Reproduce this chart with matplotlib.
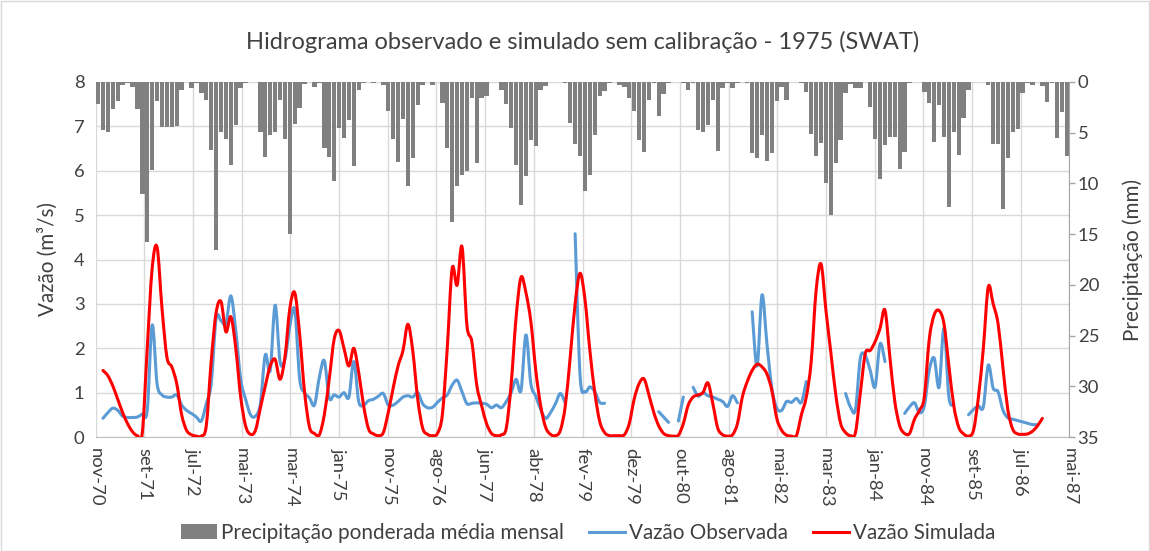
import numpy as np
import matplotlib
matplotlib.use("Agg")
import matplotlib.pyplot as plt
from matplotlib.patches import Patch, Rectangle, PathPatch
from matplotlib.lines import Line2D
from matplotlib.path import Path

plt.rcParams['font.family'] = ['Lato', 'DejaVu Sans']

nan = np.nan

# monthly series, nov-70 .. abr-87
precip = [
    2.2, 4.7, 4.9, 2.7, 1.9, 0.3, 0.1, 0.5, 2.7, 11.0,
    15.8, 8.7, 1.9, 4.4, 4.4, 4.4, 4.3, 0.8, 0.0, 0.6,
    0.1, 1.1, 1.8, 6.7, 16.6, 4.9, 5.6, 8.2, 4.2, 0.6,
    0.1, 0.0, 0.0, 4.9, 7.4, 5.2, 4.9, 1.8, 5.6, 15.0,
    4.1, 2.6, 0.2, 0.0, 0.5, 0.1, 6.5, 7.4, 9.8, 4.5,
    5.5, 3.7, 8.3, 0.8, 0.1, 0.0, 0.1, 0.0, 0.3, 2.9,
    5.6, 7.9, 3.6, 10.3, 7.5, 2.3, 0.3, 0.0, 0.3, 0.0,
    2.1, 6.5, 13.8, 10.3, 9.2, 8.8, 1.6, 8.0, 1.6, 1.4,
    0.0, 0.0, 0.8, 2.2, 4.5, 8.2, 12.1, 9.3, 5.7, 6.3,
    0.8, 0.4, 0.0, 0.0, 0.0, 0.1, 4.0, 6.1, 7.3, 10.7,
    9.2, 5.2, 1.4, 0.9, 0.1, 0.0, 0.3, 0.5, 1.6, 2.9,
    5.7, 6.9, 1.8, 0.1, 3.4, 1.2, 0.1, 0.0, 0.0, 0.1,
    0.8, 0.1, 4.7, 4.9, 4.2, 1.8, 6.8, 0.6, 0.1, 0.6,
    0.1, 0.0, 0.1, 7.0, 7.5, 5.2, 7.8, 7.0, 1.9, 0.5,
    1.8, 0.0, 0.0, 0.1, 1.0, 5.1, 7.3, 6.0, 10.0, 13.1,
    8.0, 5.7, 1.1, 0.2, 0.6, 0.6, 0.0, 2.5, 5.6, 9.6,
    6.2, 5.4, 5.4, 8.6, 6.9, 0.1, 0.0, 0.0, 1.0, 2.1,
    5.9, 2.3, 5.4, 12.3, 4.9, 7.2, 3.5, 0.8, 0.0, 0.0,
    0.0, 0.3, 6.1, 6.1, 12.5, 7.5, 4.9, 4.6, 1.1, 0.1,
    0.3, 0.0, 0.4, 2.0, 0.1, 5.5, 3.0, 7.3,
]

observed = [
    nan, 0.42, 0.55, 0.65, 0.6, 0.47, 0.44, 0.44, 0.45, 0.52,
    0.6, 2.52, 1.2, 0.95, 0.9, 0.9, 0.95, 0.72, 0.6, 0.53,
    0.45, 0.36, 0.75, 1.2, 2.67, 2.62, 2.55, 3.18, 2.4, 1.3,
    0.85, 0.5, 0.47, 0.75, 1.85, 1.5, 2.97, 1.7, 1.75, 2.5,
    2.86, 1.3, 1.0, 0.88, 0.72, 1.35, 1.72, 0.88, 0.95, 0.9,
    1.0, 0.9, 1.7, 0.8, 0.72, 0.82, 0.85, 0.92, 0.98, 0.72,
    0.72, 0.8, 0.9, 0.93, 0.9, 1.0, 0.75, 0.66, 0.67, 0.78,
    0.88, 0.95, 1.17, 1.28, 1.02, 0.75, 0.76, 0.77, 0.76, 0.74,
    0.66, 0.72, 0.66, 0.8, 1.0, 1.3, 1.05, 2.3, 1.2, 0.92,
    0.62, 0.42, 0.55, 0.75, 0.98, 0.76, nan, 4.58, 1.4, 1.02,
    1.13, 1.02, 0.78, 0.76, nan, nan, nan, nan, nan, nan,
    nan, nan, nan, nan, 0.57, 0.45, 0.33, nan, 0.36, 0.9,
    nan, 1.12, 0.92, 1.0, 0.93, 0.9, 0.85, 0.8, 0.69, 0.93,
    0.77, nan, nan, 2.82, 1.6, 3.2, 2.1, 1.1, 0.65, 0.6,
    0.8, 0.78, 0.87, 0.78, 1.25, nan, nan, nan, nan, nan,
    nan, nan, 0.98, 0.67, 0.62, 1.78, 1.83, 1.5, 1.13, 2.1,
    1.7, nan, nan, nan, 0.53, 0.68, 0.77, 0.55, 0.7, 1.5,
    1.78, 1.12, 2.45, 0.9, 0.72, nan, nan, 0.5, 0.62, 0.7,
    0.68, 1.62, 1.1, 1.02, 0.6, 0.43, 0.4, 0.37, 0.34, 0.31,
    0.28, 0.28, nan, nan, nan, nan, nan, nan,
]

simulated = [
    nan, 1.5, 1.38, 1.15, 0.85, 0.55, 0.3, 0.12, 0.03, 0.1,
    2.0, 3.8, 4.28, 2.9, 1.8, 1.58, 1.2, 0.5, 0.15, 0.05,
    0.02, 0.02, 0.25, 1.7, 2.8, 3.05, 2.37, 2.71, 2.0, 0.9,
    0.25, 0.06, 0.15, 0.65, 1.15, 1.6, 1.75, 1.3, 1.8, 2.9,
    3.25, 2.3, 1.0, 0.22, 0.08, 0.05, 0.5, 1.3, 2.2, 2.4,
    2.0, 1.6, 2.0, 1.45, 0.7, 0.18, 0.07, 0.03, 0.1, 0.55,
    1.1, 1.6, 1.95, 2.54, 1.93, 0.85, 0.2, 0.06, 0.03, 0.08,
    0.5, 2.0, 3.8, 3.42, 4.29, 2.52, 2.15, 1.17, 0.7, 0.3,
    0.08, 0.03, 0.05, 0.2, 1.2, 2.7, 3.6, 3.25, 2.6, 1.5,
    0.7, 0.22, 0.06, 0.03, 0.15, 0.7, 1.8, 3.0, 3.69, 3.1,
    1.95, 1.0, 0.35, 0.1, 0.03, 0.03, 0.03, 0.05, 0.3, 0.85,
    1.2, 1.31, 0.95, 0.55, 0.25, 0.08, 0.03, 0.02, 0.04, 0.3,
    0.72, 0.9, 0.95, 1.0, 1.22, 0.75, 0.2, 0.05, 0.02, 0.05,
    0.3, 0.9, 1.25, 1.5, 1.64, 1.58, 1.42, 1.05, 0.42, 0.15,
    0.04, 0.02, 0.03, 0.5, 0.9, 1.7, 3.3, 3.9, 2.85, 1.9,
    0.95, 0.3, 0.1, 0.03, 0.1, 1.0, 1.88, 1.95, 2.15, 2.45,
    2.86, 1.8, 0.8, 0.25, 0.08, 0.08, 0.4, 0.6, 0.9, 2.2,
    2.75, 2.85, 2.55, 1.6, 0.7, 0.22, 0.07, 0.02, 0.15, 0.9,
    2.0, 3.38, 3.0, 2.55, 1.55, 0.6, 0.17, 0.07, 0.06, 0.07,
    0.13, 0.25, 0.42, nan, nan, nan, nan, nan,
]

tick_labels = ['nov-70', 'set-71', 'jul-72', 'mai-73', 'mar-74', 'jan-75',
               'nov-75', 'ago-76', 'jun-77', 'abr-78', 'fev-79', 'dez-79',
               'out-80', 'ago-81', 'mai-82', 'mar-83', 'jan-84', 'nov-84',
               'set-85', 'jul-86', 'mai-87']

txt = '#404040'
grid_c = '#d9d9d9'
fs_tick = 13.3
fs = 14.9


def smooth_path(xs, ys):
    """Smoothed line through the points (Bezier segments), broken at NaNs."""
    verts, codes = [], []
    ok = ~np.isnan(ys)
    i, n = 0, len(ys)
    while i < n:
        if not ok[i]:
            i += 1
            continue
        j = i
        while j < n and ok[j]:
            j += 1
        px, py = xs[i:j], ys[i:j]
        if len(px) > 1:
            verts.append((px[0], py[0]))
            codes.append(Path.MOVETO)
            last = len(px) - 1
            for k in range(last):
                a, d = max(k - 1, 0), min(k + 2, last)
                c1 = (px[k] + (px[k + 1] - px[a]) / 6,
                      py[k] + (py[k + 1] - py[a]) / 6)
                c2 = (px[k + 1] - (px[d] - px[k]) / 6,
                      py[k + 1] - (py[d] - py[k]) / 6)
                verts += [c1, c2, (px[k + 1], py[k + 1])]
                codes += [Path.CURVE4] * 3
        i = j
    return Path(verts, codes)


n = len(precip)
x = np.arange(n) + 0.5

W, H = 1150, 551
fig = plt.figure(figsize=(W / 100, H / 100), dpi=100)
rect = [95.6 / W, 1 - 437 / H, (1069.4 - 95.6) / W, 355 / H]

# background axes: grid and left/bottom labels
ax_grid = fig.add_axes(rect, zorder=0)
# precipitation bars on the right scale
ax2 = fig.add_axes(rect, zorder=1, sharex=ax_grid)
# discharge lines on top
ax = fig.add_axes(rect, zorder=2, sharex=ax_grid)

ax_grid.set_xlim(0, n)
ax_grid.set_ylim(0, 8)
ax_grid.set_yticks(range(9))
ax_grid.set_xticks(np.linspace(0, n, len(tick_labels)))
ax_grid.set_xticklabels(tick_labels, rotation=-90, ha='center', va='top')
ax_grid.grid(True, color=grid_c, lw=1)
ax_grid.tick_params(axis='x', length=0, pad=8, labelsize=fs_tick, labelcolor=txt)
ax_grid.tick_params(axis='y', length=0, pad=8, labelsize=fs_tick, labelcolor=txt)
for s in ['top', 'left', 'right']:
    ax_grid.spines[s].set_visible(False)
ax_grid.spines['bottom'].set_color('#bfbfbf')

ax2.bar(x, precip, width=0.9, color='#808080', zorder=2)
ax2.set_ylim(35, 0)
ax2.set_yticks(range(0, 36, 5))
ax2.yaxis.tick_right()
ax2.patch.set_visible(False)
ax2.tick_params(axis='x', bottom=False, labelbottom=False)
ax2.tick_params(axis='y', length=4, width=1, color='#a6a6a6', pad=2,
                labelsize=fs_tick, labelcolor=txt)
for s in ['top', 'left', 'bottom']:
    ax2.spines[s].set_visible(False)
ax2.spines['right'].set_color('#a6a6a6')

for series, color in [(observed, '#5b9bd5'), (simulated, '#ff0000')]:
    ax.add_patch(PathPatch(smooth_path(x, np.array(series, dtype=float)),
                           fill=False, edgecolor=color, lw=2.2,
                           capstyle='round', joinstyle='round'))
ax.set_ylim(0, 8)
ax.axis('off')

fig.text(582.5 / W, 1 - 42 / H,
         'Hidrograma observado e simulado sem calibração - 1975 (SWAT)',
         ha='center', va='center', fontsize=17, color=txt)
fig.text(48 / W, 1 - 259.5 / H, 'Vazão (m³/s)', rotation=90,
         ha='center', va='center', fontsize=fs, color=txt)
fig.text(1133 / W, 1 - 259.5 / H, 'Precipitação (mm)', rotation=90,
         ha='center', va='center', fontsize=fs, color=txt)

handles = [Patch(facecolor='#808080', edgecolor='none'),
           Line2D([], [], color='#5b9bd5', lw=2.2),
           Line2D([], [], color='#ff0000', lw=2.2)]
labels = ['Precipitação ponderada média mensal', 'Vazão Observada',
          'Vazão Simulada']
leg = fig.legend(handles, labels, loc='center',
                 bbox_to_anchor=(588 / W, 1 - 533 / H), ncol=3,
                 frameon=False, fontsize=fs, handlelength=1.75,
                 handleheight=0.75, handletextpad=0.2, columnspacing=1.2)
for t in leg.get_texts():
    t.set_color(txt)

fig.add_artist(Rectangle((0.5 / W, 0.5 / H), 1 - 1.5 / W, 1 - 1.5 / H,
                         transform=fig.transFigure, fill=False,
                         ec='#d9d9d9', lw=1))

fig.savefig('out.png', dpi=100)
